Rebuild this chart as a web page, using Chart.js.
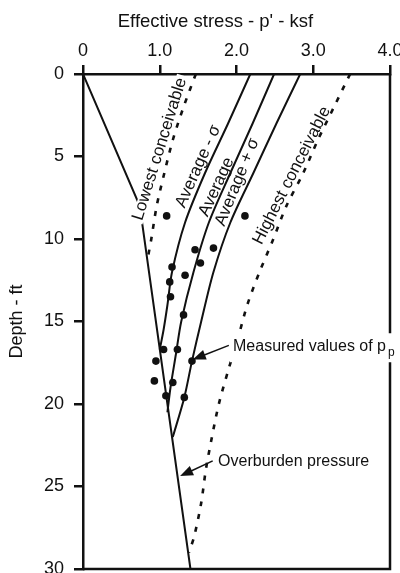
<!DOCTYPE html>
<html>
<head>
<meta charset="utf-8">
<script src="https://cdn.jsdelivr.net/npm/chart.js@4/dist/chart.umd.min.js"></script>
<style>
  body { margin: 0; background: #fff; }
  canvas { display: block; }
</style>
</head>
<body>
<canvas id="stressChart" width="400" height="573"></canvas>
<script>
// effective stress (ksf) vs depth (ft)
let overburdenDepth = [0, 8, 30];
let overburdenP = [0, 0.74, 1.40];

let lowestDepth = [0, 2, 4, 6, 8, 10, 11];
let lowestP = [1.47, 1.31, 1.17, 1.06, 0.96, 0.89, 0.85];

let avgMinusDepth = [0, 3, 6, 9, 12, 14, 15.5, 16.7];
let avgMinusP = [2.18, 1.89, 1.59, 1.33, 1.16, 1.10, 1.05, 1.00];

let avgDepth = [0, 3, 6, 9, 12, 15, 17, 19, 20.5];
let avgP = [2.49, 2.21, 1.92, 1.64, 1.44, 1.28, 1.21, 1.14, 1.10];

let avgPlusDepth = [0, 3, 6, 9, 12, 15, 17.4, 19.6, 22];
let avgPlusP = [2.83, 2.52, 2.22, 1.92, 1.70, 1.54, 1.42, 1.32, 1.17];

let highestDepth = [0, 2, 4, 6, 8, 10, 12, 14, 16, 18, 20, 22, 24, 26, 28, 29];
let highestP = [3.48, 3.27, 3.06, 2.87, 2.65, 2.48, 2.30, 2.14, 2.02, 1.89, 1.77, 1.68, 1.60, 1.54, 1.45, 1.38];

let measuredP = [1.09, 2.11, 1.46, 1.70, 1.53, 1.16, 1.33, 1.13, 1.14, 1.31, 1.05, 1.23, 1.42, 0.95, 0.93, 1.17, 1.08, 1.32];
let measuredDepth = [8.6, 8.6, 10.65, 10.55, 11.45, 11.7, 12.2, 12.6, 13.5, 14.6, 16.7, 16.7, 17.4, 17.4, 18.6, 18.7, 19.5, 19.6];

let xTicks = [0, 1, 2, 3, 4];
let yTicks = [0, 5, 10, 15, 20, 25, 30];

let FONT = "'Liberation Sans', Arial, Helvetica, sans-serif";
let INK = '#111';

function toPoints(xs, ys) {
    let pts = [];
    for (let i = 0; i < xs.length; i++) {
        pts.push({x: xs[i], y: ys[i]});
    }
    return pts;
}

function curve(xs, ys, dashed, tension) {
    return {
        type: 'line',
        data: toPoints(xs, ys),
        borderColor: INK,
        borderWidth: dashed ? 2.6 : 2,
        borderDash: dashed ? [5, 8] : [],
        pointRadius: 0,
        tension: tension,
        fill: false
    };
}

// labels that run along the curves
let curveLabels = [
    {text: 'Lowest conceivable', p: 1.0, d: 4.55, angle: -72.6, bg: true},
    {text: 'Average - σ', p: 1.5, d: 5.6, angle: -66},
    {text: 'Average', p: 1.74, d: 6.85, angle: -65},
    {text: 'Average + σ', p: 2.01, d: 6.55, angle: -68},
    {text: 'Highest conceivable', p: 2.72, d: 6.15, angle: -63}
];

function arrow(ctx, x1, y1, x2, y2) {
    let a = Math.atan2(y2 - y1, x2 - x1);
    let len = 13, half = 5;
    ctx.beginPath();
    ctx.moveTo(x1, y1);
    ctx.lineTo(x2 - Math.cos(a) * len * 0.8, y2 - Math.sin(a) * len * 0.8);
    ctx.lineWidth = 1.5;
    ctx.strokeStyle = INK;
    ctx.stroke();
    ctx.beginPath();
    ctx.moveTo(x2, y2);
    ctx.lineTo(x2 - Math.cos(a) * len + Math.sin(a) * half, y2 - Math.sin(a) * len - Math.cos(a) * half);
    ctx.lineTo(x2 - Math.cos(a) * len - Math.sin(a) * half, y2 - Math.sin(a) * len + Math.cos(a) * half);
    ctx.closePath();
    ctx.fillStyle = INK;
    ctx.fill();
}

function noOverflow(scale) {
    scale.paddingLeft = 0;
    scale.paddingRight = 0;
    scale.paddingTop = 0;
    scale.paddingBottom = 0;
}

let annotations = {
    id: 'annotations',
    afterDraw(chart) {
        let ctx = chart.ctx;
        let area = chart.chartArea;
        let sx = chart.scales.x, sy = chart.scales.y;
        ctx.save();

        // right and bottom edges of the frame
        ctx.strokeStyle = INK;
        ctx.lineWidth = 2.5;
        ctx.beginPath();
        ctx.moveTo(area.right, area.top);
        ctx.lineTo(area.right, area.bottom);
        ctx.lineTo(area.left, area.bottom);
        ctx.stroke();

        // top title
        ctx.fillStyle = INK;
        ctx.font = '18.5px ' + FONT;
        ctx.textAlign = 'center';
        ctx.textBaseline = 'middle';
        ctx.fillText("Effective stress - p' - ksf", 215.5, 22);

        // rotated curve labels
        ctx.font = '17px ' + FONT;
        for (let i = 0; i < curveLabels.length; i++) {
            let l = curveLabels[i];
            ctx.save();
            ctx.translate(sx.getPixelForValue(l.p), sy.getPixelForValue(l.d));
            ctx.rotate(l.angle * Math.PI / 180);
            if (l.bg) {
                let w = ctx.measureText(l.text).width;
                ctx.fillStyle = '#fff';
                ctx.fillRect(-w / 2 - 3, -6, w + 6, 12);
            }
            ctx.fillStyle = INK;
            ctx.textAlign = 'center';
            ctx.textBaseline = 'middle';
            ctx.fillText(l.text, 0, 0);
            ctx.restore();
        }

        // measured values callout
        ctx.font = '16px ' + FONT;
        ctx.textAlign = 'left';
        ctx.textBaseline = 'middle';
        let mx = sx.getPixelForValue(1.955), my = sy.getPixelForValue(16.5);
        let mText = 'Measured values of p';
        let mw = ctx.measureText(mText).width;
        ctx.fillStyle = '#fff';
        ctx.fillRect(mx - 3, my - 13, mw + 18, 29);
        ctx.fillStyle = INK;
        ctx.fillText(mText, mx, my);
        ctx.font = '12px ' + FONT;
        ctx.fillText('p', mx + mw + 2, my + 6);
        arrow(ctx, sx.getPixelForValue(1.90), sy.getPixelForValue(16.45),
              sx.getPixelForValue(1.43), sy.getPixelForValue(17.3));

        // overburden callout
        ctx.font = '16px ' + FONT;
        ctx.fillStyle = INK;
        ctx.fillText('Overburden pressure', sx.getPixelForValue(1.76), sy.getPixelForValue(23.5));
        arrow(ctx, sx.getPixelForValue(1.69), sy.getPixelForValue(23.45),
              sx.getPixelForValue(1.265), sy.getPixelForValue(24.37));

        ctx.restore();
    }
};

let canvas = document.getElementById('stressChart');
let stressChart = new Chart(canvas, {
    type: 'scatter',
    data: {
        datasets: [
            curve(overburdenP, overburdenDepth, false, 0),
            curve(lowestP, lowestDepth, true, 0.3),
            curve(avgMinusP, avgMinusDepth, false, 0.3),
            curve(avgP, avgDepth, false, 0.3),
            curve(avgPlusP, avgPlusDepth, false, 0.3),
            curve(highestP, highestDepth, true, 0.3),
            {
                data: toPoints(measuredP, measuredDepth),
                backgroundColor: INK,
                borderColor: INK,
                pointRadius: 3.8,
                pointBorderWidth: 0,
                showLine: false
            }
        ]
    },
    options: {
        responsive: false,
        animation: false,
        layout: {padding: {left: 0, right: 10, top: 0, bottom: 3}},
        plugins: {
            legend: {display: false},
            tooltip: {enabled: false}
        },
        scales: {
            x: {
                type: 'linear',
                position: 'top',
                min: 0,
                max: 4,
                afterBuildTicks: function (scale) {
                    scale.ticks = xTicks.map(v => ({value: v}));
                },
                afterFit: function (scale) {
                    scale.height = 74;
                    noOverflow(scale);
                },
                ticks: {
                    color: INK,
                    font: {family: FONT, size: 18},
                    padding: 3,
                    maxRotation: 0,
                    callback: v => v === 0 ? '0' : v.toFixed(1)
                },
                grid: {drawOnChartArea: false, tickLength: 9, color: INK, lineWidth: 2.5},
                border: {color: INK, width: 2.5}
            },
            y: {
                type: 'linear',
                reverse: true,
                min: 0,
                max: 30,
                afterBuildTicks: function (scale) {
                    scale.ticks = yTicks.map(v => ({value: v}));
                },
                afterFit: function (scale) {
                    scale.width = 83;
                    noOverflow(scale);
                },
                ticks: {
                    color: INK,
                    font: {family: FONT, size: 18},
                    padding: 10
                },
                title: {
                    display: true,
                    text: 'Depth - ft',
                    color: INK,
                    font: {family: FONT, size: 18},
                    padding: {top: 6, bottom: 0}
                },
                grid: {drawOnChartArea: false, tickLength: 9, color: INK, lineWidth: 2.5},
                border: {color: INK, width: 2.5}
            }
        }
    },
    plugins: [annotations]
});
</script>
</body>
</html>
